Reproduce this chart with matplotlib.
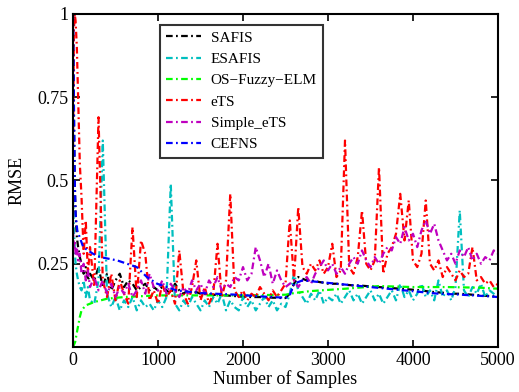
import numpy as np
import matplotlib.pyplot as plt

plt.rcParams['font.family'] = ['Liberation Serif', 'DejaVu Serif']

# sample grid for the noisy curves: dense start, then every 50 samples
samples = [0, 10, 20, 30, 45, 60, 80, 100, 125, 150, 175, 200] + list(range(250, 5001, 50))

safis = [1.0, 0.7, 0.5, 0.4, 0.33, 0.3, 0.27, 0.25, 0.22, 0.24, 0.2, 0.22,
         0.2, 0.24, 0.18, 0.22, 0.17, 0.2, 0.22, 0.18, 0.2, 0.19,
         0.17, 0.18, 0.19, 0.17, 0.18, 0.17, 0.18, 0.17, 0.16, 0.19,
         0.17, 0.16, 0.17, 0.16, 0.165, 0.16, 0.159, 0.158, 0.157, 0.156,
         0.155, 0.155, 0.154, 0.153, 0.152, 0.151, 0.15, 0.15, 0.15, 0.15,
         0.149, 0.149, 0.148, 0.148, 0.147, 0.147, 0.16, 0.19, 0.21, 0.205,
         0.2, 0.2, 0.198, 0.195, 0.193, 0.19, 0.19, 0.19, 0.188, 0.187,
         0.186, 0.185, 0.185, 0.184, 0.183, 0.182, 0.181, 0.18, 0.179, 0.178,
         0.177, 0.176, 0.175, 0.174, 0.173, 0.172, 0.171, 0.17, 0.168, 0.166,
         0.165, 0.164, 0.163, 0.162, 0.161, 0.16, 0.16, 0.159, 0.158, 0.157,
         0.156, 0.155, 0.154, 0.153, 0.152, 0.15]

esafis = [0.45, 0.35, 0.3, 0.25, 0.22, 0.2, 0.18, 0.17, 0.2, 0.15, 0.18, 0.14,
          0.13, 0.2, 0.62, 0.16, 0.12, 0.15, 0.11, 0.14, 0.12, 0.15,
          0.11, 0.14, 0.12, 0.13, 0.11, 0.14, 0.12, 0.15, 0.49, 0.13,
          0.11, 0.14, 0.12, 0.15, 0.13, 0.11, 0.14, 0.12, 0.15, 0.13,
          0.16, 0.11, 0.14, 0.12, 0.11, 0.15, 0.12, 0.14, 0.11, 0.13,
          0.15, 0.12, 0.14, 0.11, 0.13, 0.12, 0.16, 0.22, 0.17, 0.15,
          0.13, 0.16, 0.14, 0.17, 0.13, 0.15, 0.14, 0.16, 0.13, 0.15,
          0.17, 0.14, 0.16, 0.13, 0.15, 0.17, 0.14, 0.16, 0.13, 0.15,
          0.17, 0.14, 0.19, 0.15, 0.17, 0.14, 0.16, 0.19, 0.15, 0.17,
          0.14, 0.2, 0.15, 0.17, 0.14, 0.18, 0.41, 0.17, 0.15, 0.18,
          0.16, 0.19, 0.15, 0.17, 0.16, 0.15]

ets = [0.6, 0.95, 1.0, 0.98, 0.9, 0.75, 0.55, 0.45, 0.28, 0.38, 0.22, 0.3,
       0.18, 0.69, 0.2, 0.15, 0.22, 0.14, 0.2, 0.16, 0.13, 0.36,
       0.15, 0.32, 0.28, 0.14, 0.17, 0.13, 0.19, 0.15, 0.17, 0.13,
       0.29, 0.16, 0.13, 0.18, 0.26, 0.14, 0.18, 0.13, 0.16, 0.31,
       0.15, 0.2, 0.46, 0.17, 0.15, 0.17, 0.14, 0.16, 0.15, 0.18,
       0.16, 0.14, 0.17, 0.15, 0.17, 0.19, 0.38, 0.2, 0.42, 0.24,
       0.22, 0.25, 0.23, 0.26, 0.22, 0.24, 0.31, 0.21, 0.23, 0.62,
       0.24, 0.22, 0.27, 0.41, 0.25, 0.23, 0.26, 0.54, 0.22, 0.28,
       0.3, 0.34, 0.46, 0.32, 0.44, 0.26, 0.24, 0.28, 0.44, 0.25,
       0.23, 0.26, 0.21, 0.24, 0.22, 0.2, 0.23, 0.21, 0.22, 0.3,
       0.2, 0.21, 0.19, 0.2, 0.18, 0.19]

simple_ets = [0.35, 0.3, 0.32, 0.28, 0.3, 0.26, 0.28, 0.22, 0.25, 0.2, 0.23, 0.18,
              0.21, 0.17, 0.2, 0.16, 0.19, 0.15, 0.18, 0.16, 0.19, 0.15,
              0.17, 0.2, 0.16, 0.22, 0.18, 0.17, 0.2, 0.16, 0.19, 0.17,
              0.15, 0.18, 0.16, 0.2, 0.17, 0.19, 0.16, 0.2, 0.18, 0.21,
              0.17, 0.19, 0.18, 0.21, 0.2, 0.24, 0.2, 0.22, 0.3, 0.26,
              0.21, 0.25, 0.19, 0.23, 0.2, 0.18, 0.19, 0.2, 0.18, 0.2,
              0.21, 0.19, 0.22, 0.24, 0.26, 0.23, 0.25, 0.22, 0.24, 0.22,
              0.25, 0.27, 0.25, 0.29, 0.26, 0.24, 0.27, 0.25, 0.28, 0.3,
              0.29, 0.33, 0.31, 0.36, 0.32, 0.34, 0.3, 0.35, 0.38, 0.34,
              0.37, 0.32, 0.29, 0.26, 0.28, 0.25, 0.29, 0.27, 0.3, 0.26,
              0.28, 0.25, 0.27, 0.26, 0.29, 0.28]

# smoother curves get their own sparse sample points
elm_samples = [0, 25, 50, 80, 100, 150, 250, 400, 600, 1000, 1500, 2000, 2500,
               2600, 2800, 3200, 3600, 4000, 4400, 4800, 5000]
os_fuzzy_elm = [0.0, 0.015, 0.05, 0.09, 0.11, 0.125, 0.135, 0.145, 0.15, 0.155, 0.155,
                0.155, 0.157, 0.162, 0.168, 0.175, 0.183, 0.18, 0.18, 0.178, 0.175]

cefns_samples = [0, 10, 20, 30, 50, 120, 235, 320, 520, 750, 870, 990, 1220, 1500,
                 1930, 2200, 2500, 2550, 2600, 2700, 2900, 3100, 3300, 3500, 3700,
                 3900, 4100, 4300, 4500, 4700, 4900, 5000]
cefns = [1.0, 0.75, 0.5, 0.4, 0.35, 0.3, 0.28, 0.27, 0.26, 0.24, 0.21, 0.19, 0.17,
         0.162, 0.157, 0.152, 0.148, 0.155, 0.19, 0.2, 0.195, 0.19, 0.185, 0.18,
         0.175, 0.17, 0.165, 0.16, 0.158, 0.155, 0.152, 0.15]

fig = plt.figure(figsize=(5.19, 3.92), dpi=100)
ax = fig.add_axes([0.1407, 0.1148, 0.8188, 0.8495])

dash = (0, (3, 1.5, 0.8, 1.5))
lw = 1.6
ax.plot(samples, safis, color='k', ls=dash, lw=lw, label='SAFIS')
ax.plot(samples, esafis, color='c', ls=dash, lw=lw, label='ESAFIS')
ax.plot(elm_samples, os_fuzzy_elm, color='#00ff00', ls=dash, lw=lw, label='OS\u2212Fuzzy\u2212ELM')
ax.plot(samples, ets, color='r', ls=dash, lw=lw, label='eTS')
ax.plot(samples, simple_ets, color='m', ls=dash, lw=lw, label='Simple_eTS')
ax.plot(cefns_samples, cefns, color='b', ls=dash, lw=lw, label='CEFNS')

ax.set_xlim(0, 5000)
ax.set_ylim(0, 1)
ax.set_xticks(range(0, 5001, 1000))
ax.set_yticks([0.25, 0.5, 0.75, 1])
ax.set_yticklabels(['0.25', '0.5', '0.75', '1'])
ax.tick_params(direction='in', top=True, right=True, length=5, width=1.2, labelsize=13)
for s in ax.spines.values():
    s.set_linewidth(1.5)

ax.set_xlabel('Number of Samples', fontsize=13, labelpad=1)
ax.set_ylabel('RMSE', fontsize=13, labelpad=8)

leg = ax.legend(loc='upper left', bbox_to_anchor=(0.205, 0.967), borderaxespad=0,
                fancybox=False, fontsize=11, handlelength=2.3, handletextpad=0.6,
                labelspacing=0.5, borderpad=0.4)
leg.get_frame().set_edgecolor('k')
leg.get_frame().set_linewidth(1.5)

fig.savefig('out.png', dpi=100)
